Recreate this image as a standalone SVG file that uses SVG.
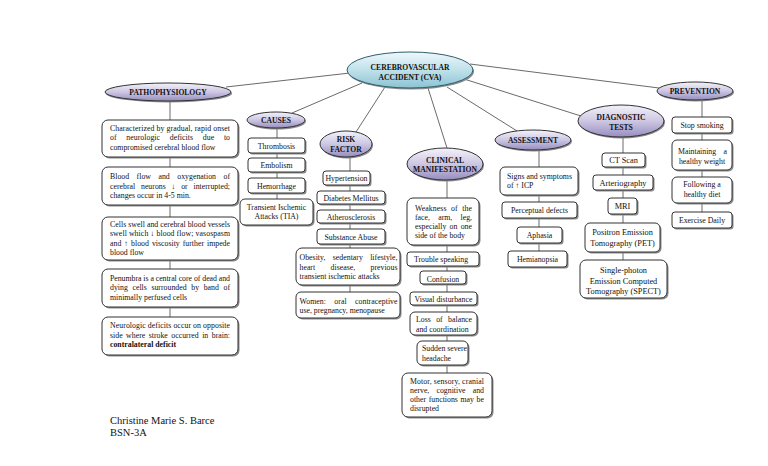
<svg xmlns="http://www.w3.org/2000/svg" width="768" height="466" viewBox="0 0 768 466">
<defs>
<linearGradient id="gp" x1="0" y1="0" x2="0" y2="1">
<stop offset="0" stop-color="#f4f2fa"/>
<stop offset="0.5" stop-color="#cdc7e3"/>
<stop offset="1" stop-color="#978dc0"/>
</linearGradient>
<linearGradient id="gc" x1="0" y1="0" x2="0" y2="1">
<stop offset="0" stop-color="#eef8fb"/>
<stop offset="0.5" stop-color="#bfe1ea"/>
<stop offset="1" stop-color="#8cc3d3"/>
</linearGradient>
</defs>
<style>
.bg{fill:#ffffff}
.con{stroke:#444;stroke-width:0.8;fill:none}
.ell{fill:url(#gp);stroke:#333;stroke-width:1}
.cen{fill:url(#gc);stroke:#2f5e6c;stroke-width:1}
.sh{fill:#8a8a8a}
.box{fill:#fff;stroke:#333;stroke-width:1}
.h{font-family:"Liberation Serif",serif;font-weight:bold;font-size:7.6px;fill:#111;text-anchor:middle}
.t{font-family:"Liberation Serif",serif;font-size:7.8px;fill:#111}
.p{font-family:"Liberation Serif",serif;font-size:7.8px;fill:#111}
.d{font-family:"Liberation Serif",serif;font-size:8.3px;fill:#111}
.m{text-anchor:middle}
.b{font-weight:bold}
.f{font-family:"Liberation Serif",serif;font-size:10.5px;fill:#111}
</style>
<rect class="bg" x="0" y="0" width="768" height="466"/>

<g id="connectors">
<line class="con" x1="226" y1="87" x2="350" y2="73"/>
<line class="con" x1="292" y1="113" x2="362" y2="83"/>
<line class="con" x1="356" y1="132" x2="385" y2="87"/>
<line class="con" x1="447" y1="148" x2="428" y2="88"/>
<line class="con" x1="517" y1="131" x2="447" y2="87"/>
<line class="con" x1="581" y1="116" x2="464" y2="79"/>
<line class="con" x1="659" y1="88" x2="470" y2="64"/>
<line class="con" x1="170" y1="100" x2="170" y2="317"/>
<line class="con" x1="277" y1="127" x2="277" y2="199"/>
<line class="con" x1="350" y1="157" x2="350" y2="292"/>
<line class="con" x1="447" y1="180" x2="447" y2="373"/>
<line class="con" x1="539" y1="150" x2="539" y2="251"/>
<line class="con" x1="623" y1="137" x2="623" y2="260"/>
<line class="con" x1="702" y1="100" x2="702" y2="212"/>
</g>

<g id="cva">
<ellipse cx="411" cy="71.5" rx="63" ry="18" fill="#8a8a8a"/>
<ellipse class="cen" cx="410" cy="70" rx="63" ry="18"/>
<text class="h" x="410" y="69.5">CEREBROVASCULAR</text>
<text class="h" x="410" y="79.5">ACCIDENT (CVA)</text>
</g>

<g id="pathophysiology">
<ellipse cx="169" cy="93.5" rx="63" ry="9" fill="#8a8a8a"/>
<ellipse class="ell" cx="168" cy="92" rx="63" ry="9"/>
<text class="h" x="168" y="94.5">PATHOPHYSIOLOGY</text>
</g>
<g id="patho1">
<rect class="sh" x="103.5" y="121.5" width="136" height="37" rx="6"/>
<rect class="box" x="102" y="120" width="136" height="37" rx="6"/>
<text class="p" x="110" y="130.5" textLength="120" lengthAdjust="spacing">Characterized by gradual, rapid onset</text>
<text class="p" x="110" y="140" style="word-spacing:7.8px" textLength="120" lengthAdjust="spacing">of neurologic deficits due to</text>
<text class="p" x="110" y="149.5">compromised cerebral blood flow</text>
</g>
<g id="patho2">
<rect class="sh" x="103.5" y="168.5" width="136" height="38" rx="6"/>
<rect class="box" x="102" y="167" width="136" height="38" rx="6"/>
<text class="p" x="110" y="179" style="word-spacing:5.5px" textLength="120" lengthAdjust="spacing">Blood flow and oxygenation of</text>
<text class="p" x="110" y="188.5" style="word-spacing:3.8px" textLength="120" lengthAdjust="spacing">cerebral neurons ↓ or interrupted;</text>
<text class="p" x="110" y="198">changes occur in 4-5 min.</text>
</g>
<g id="patho3">
<rect class="sh" x="103.5" y="218.5" width="136" height="43" rx="6"/>
<rect class="box" x="102" y="217" width="136" height="43" rx="6"/>
<text class="p" x="110" y="226.5" textLength="120" lengthAdjust="spacing">Cells swell and cerebral blood vessels</text>
<text class="p" x="110" y="236" textLength="120" lengthAdjust="spacing">swell which ↓ blood flow; vasospasm</text>
<text class="p" x="110" y="245.5" style="word-spacing:1px" textLength="120" lengthAdjust="spacing">and ↑ blood viscosity further impede</text>
<text class="p" x="110" y="255">blood flow</text>
</g>
<g id="patho4">
<rect class="sh" x="103.5" y="270.5" width="136" height="38" rx="6"/>
<rect class="box" x="102" y="269" width="136" height="38" rx="6"/>
<text class="p" x="110" y="280.5" textLength="120" lengthAdjust="spacing">Penumbra is a central core of dead and</text>
<text class="p" x="110" y="290" style="word-spacing:2.6px" textLength="120" lengthAdjust="spacing">dying cells surrounded by band of</text>
<text class="p" x="110" y="299.5">minimally perfused cells</text>
</g>
<g id="patho5">
<rect class="sh" x="103.5" y="318.5" width="136" height="38" rx="6"/>
<rect class="box" x="102" y="317" width="136" height="38" rx="6"/>
<text class="p" x="110" y="328" textLength="120" lengthAdjust="spacing">Neurologic deficits occur on opposite</text>
<text class="p" x="110" y="337.5" style="word-spacing:1.5px" textLength="120" lengthAdjust="spacing">side where stroke occurred in brain:</text>
<text class="p b" x="110" y="347">contralateral deficit</text>
</g>

<g id="causes">
<ellipse cx="277" cy="121.5" rx="29" ry="8" fill="#8a8a8a"/>
<ellipse class="ell" cx="276" cy="120" rx="29" ry="8"/>
<text class="h" x="276" y="122.8">CAUSES</text>
</g>
<g id="thrombosis">
<rect class="sh" x="249.5" y="139.5" width="57" height="15" rx="3"/>
<rect class="box" x="248" y="138" width="57" height="15" rx="3"/>
<text class="t m" x="276.5" y="148.5">Thrombosis</text>
</g>
<g id="embolism">
<rect class="sh" x="249.5" y="159.5" width="57" height="14" rx="3"/>
<rect class="box" x="248" y="158" width="57" height="14" rx="3"/>
<text class="t m" x="276.5" y="168">Embolism</text>
</g>
<g id="hemorrhage">
<rect class="sh" x="249.5" y="179.5" width="57" height="15" rx="3"/>
<rect class="box" x="248" y="178" width="57" height="15" rx="3"/>
<text class="t m" x="276.5" y="188.5">Hemorrhage</text>
</g>
<g id="tia">
<rect class="sh" x="241.5" y="200.5" width="73" height="26" rx="5"/>
<rect class="box" x="240" y="199" width="73" height="26" rx="5"/>
<text class="t m" x="276.5" y="209.5">Transient Ischemic</text>
<text class="t m" x="276.5" y="219">Attacks (TIA)</text>
</g>

<g id="risk">
<ellipse cx="347" cy="145.5" rx="26" ry="13" fill="#8a8a8a"/>
<ellipse class="ell" cx="346" cy="144" rx="26" ry="13"/>
<text class="h" x="346" y="141.5">RISK</text>
<text class="h" x="346" y="151.5">FACTOR</text>
</g>
<g id="hypertension">
<rect class="sh" x="324.5" y="172.5" width="47" height="14" rx="3"/>
<rect class="box" x="323" y="171" width="47" height="14" rx="3"/>
<text class="t m" x="346.5" y="181">Hypertension</text>
</g>
<g id="diabetes">
<rect class="sh" x="318.5" y="192.5" width="68" height="13" rx="3"/>
<rect class="box" x="317" y="191" width="68" height="13" rx="3"/>
<text class="t m" x="351" y="200.5">Diabetes Mellitus</text>
</g>
<g id="athero">
<rect class="sh" x="318.5" y="211.5" width="68" height="13" rx="3"/>
<rect class="box" x="317" y="210" width="68" height="13" rx="3"/>
<text class="t m" x="351" y="219.5">Atherosclerosis</text>
</g>
<g id="substance">
<rect class="sh" x="318.5" y="230.5" width="68" height="15" rx="3"/>
<rect class="box" x="317" y="229" width="68" height="15" rx="3"/>
<text class="t m" x="351" y="239.5">Substance Abuse</text>
</g>
<g id="obesity">
<rect class="sh" x="297.5" y="249.5" width="104" height="37" rx="6"/>
<rect class="box" x="296" y="248" width="104" height="37" rx="6"/>
<text class="t" x="299.5" y="260" style="word-spacing:5.3px" textLength="98" lengthAdjust="spacing">Obesity, sedentary lifestyle,</text>
<text class="t" x="299.5" y="269.5" style="word-spacing:13.4px" textLength="98" lengthAdjust="spacing">heart disease, previous</text>
<text class="t" x="299.5" y="279">transient ischemic attacks</text>
</g>
<g id="women">
<rect class="sh" x="297.5" y="293.5" width="104" height="26" rx="5"/>
<rect class="box" x="296" y="292" width="104" height="26" rx="5"/>
<text class="t" x="299.5" y="303.5" style="word-spacing:6.4px" textLength="98" lengthAdjust="spacing">Women: oral contraceptive</text>
<text class="t" x="299.5" y="313">use, pregnancy, menopause</text>
</g>

<g id="clinical">
<ellipse cx="446" cy="165.5" rx="38" ry="16" fill="#8a8a8a"/>
<ellipse class="ell" cx="445" cy="164" rx="38" ry="16"/>
<text class="h" x="445" y="162.5">CLINICAL</text>
<text class="h" x="445" y="172">MANIFESTATION</text>
</g>
<g id="weakness">
<rect class="sh" x="408.5" y="199.5" width="72" height="47" rx="6"/>
<rect class="box" x="407" y="198" width="72" height="47" rx="6"/>
<text class="t" x="415" y="210.5" style="word-spacing:2.6px" textLength="57" lengthAdjust="spacing">Weakness of the</text>
<text class="t" x="415" y="219.5" style="word-spacing:6.2px" textLength="57" lengthAdjust="spacing">face, arm, leg,</text>
<text class="t" x="415" y="228.5" style="word-spacing:1.3px" textLength="57" lengthAdjust="spacing">especially on one</text>
<text class="t" x="415" y="237.5">side of the body</text>
</g>
<g id="trouble">
<rect class="sh" x="408.5" y="253.5" width="72" height="14" rx="3"/>
<rect class="box" x="407" y="252" width="72" height="14" rx="3"/>
<text class="t" x="414" y="261.5">Trouble speaking</text>
</g>
<g id="confusion">
<rect class="sh" x="421.5" y="272.5" width="46" height="13" rx="3"/>
<rect class="box" x="420" y="271" width="46" height="13" rx="3"/>
<text class="t m" x="443" y="282">Confusion</text>
</g>
<g id="visual">
<rect class="sh" x="411.5" y="293.5" width="67" height="13" rx="3"/>
<rect class="box" x="410" y="292" width="67" height="13" rx="3"/>
<text class="t m" x="443.5" y="301.5">Visual disturbance</text>
</g>
<g id="balance">
<rect class="sh" x="411.5" y="313.5" width="67" height="23" rx="5"/>
<rect class="box" x="410" y="312" width="67" height="23" rx="5"/>
<text class="t" x="416" y="322" style="word-spacing:3.4px" textLength="56" lengthAdjust="spacing">Loss of balance</text>
<text class="t" x="416" y="331.5">and coordination</text>
</g>
<g id="headache">
<rect class="sh" x="418.5" y="342.5" width="51" height="24" rx="5"/>
<rect class="box" x="417" y="341" width="51" height="24" rx="5"/>
<text class="t" x="422" y="351" textLength="45" lengthAdjust="spacing">Sudden severe</text>
<text class="t" x="422" y="361">headache</text>
</g>
<g id="motor">
<rect class="sh" x="403.5" y="374.5" width="90" height="44" rx="6"/>
<rect class="box" x="402" y="373" width="90" height="44" rx="6"/>
<text class="t" x="410" y="384" textLength="74" lengthAdjust="spacing">Motor, sensory, cranial</text>
<text class="t" x="410" y="393" style="word-spacing:5.2px" textLength="74" lengthAdjust="spacing">nerve, cognitive and</text>
<text class="t" x="410" y="402" style="word-spacing:0.7px" textLength="74" lengthAdjust="spacing">other functions may be</text>
<text class="t" x="410" y="411">disrupted</text>
</g>

<g id="assessment">
<ellipse cx="534" cy="141.5" rx="38" ry="10" fill="#8a8a8a"/>
<ellipse class="ell" cx="533" cy="140" rx="38" ry="10"/>
<text class="h" x="533" y="142.8">ASSESSMENT</text>
</g>
<g id="signs">
<rect class="sh" x="501.5" y="168.5" width="78" height="28" rx="5"/>
<rect class="box" x="500" y="167" width="78" height="28" rx="5"/>
<text class="t" x="507" y="178.5" textLength="65" lengthAdjust="spacing">Signs and symptoms</text>
<text class="t" x="507" y="188">of ↑ ICP</text>
</g>
<g id="perceptual">
<rect class="sh" x="503.5" y="203.5" width="75" height="16" rx="3"/>
<rect class="box" x="502" y="202" width="75" height="16" rx="3"/>
<text class="t m" x="539.5" y="212.5">Perceptual defects</text>
</g>
<g id="aphasia">
<rect class="sh" x="518.5" y="228.5" width="45" height="16" rx="3"/>
<rect class="box" x="517" y="227" width="45" height="16" rx="3"/>
<text class="t m" x="539.5" y="237.5">Aphasia</text>
</g>
<g id="hemianopsia">
<rect class="sh" x="509.5" y="252.5" width="59" height="16" rx="3"/>
<rect class="box" x="508" y="251" width="59" height="16" rx="3"/>
<text class="t m" x="537.5" y="261.5">Hemianopsia</text>
</g>

<g id="diagnostic">
<ellipse cx="622" cy="122.5" rx="43" ry="16" fill="#8a8a8a"/>
<ellipse class="ell" cx="621" cy="121" rx="43" ry="16"/>
<text class="h" x="621" y="119.5">DIAGNOSTIC</text>
<text class="h" x="621" y="130">TESTS</text>
</g>
<g id="ct">
<rect class="sh" x="603.5" y="154.5" width="43" height="14" rx="3"/>
<rect class="box" x="602" y="153" width="43" height="14" rx="3"/>
<text class="d m" x="623.5" y="163.3">CT Scan</text>
</g>
<g id="arteriography">
<rect class="sh" x="594.5" y="176.5" width="60" height="15" rx="3"/>
<rect class="box" x="593" y="175" width="60" height="15" rx="3"/>
<text class="d m" x="623" y="185.5">Arteriography</text>
</g>
<g id="mri">
<rect class="sh" x="609.5" y="199.5" width="29" height="16" rx="3"/>
<rect class="box" x="608" y="198" width="29" height="16" rx="3"/>
<text class="d m" x="622.5" y="208.8">MRI</text>
</g>
<g id="pet">
<rect class="sh" x="586.5" y="224.5" width="75" height="29" rx="5"/>
<rect class="box" x="585" y="223" width="75" height="29" rx="5"/>
<text class="d m" x="622.5" y="235">Positron Emission</text>
<text class="d m" x="622.5" y="246">Tomography (PET)</text>
</g>
<g id="spect">
<rect class="sh" x="581.5" y="261.5" width="87" height="38" rx="6"/>
<rect class="box" x="580" y="260" width="87" height="38" rx="6"/>
<text class="d m" x="623.5" y="273">Single-photon</text>
<text class="d m" x="623.5" y="283.5">Emission Computed</text>
<text class="d m" x="623.5" y="294">Tomography (SPECT)</text>
</g>

<g id="prevention">
<ellipse cx="696" cy="92.5" rx="38" ry="9" fill="#8a8a8a"/>
<ellipse class="ell" cx="695" cy="91" rx="38" ry="9"/>
<text class="h" x="695" y="93.8">PREVENTION</text>
</g>
<g id="smoking">
<rect class="sh" x="673.5" y="118.5" width="60" height="16" rx="3"/>
<rect class="box" x="672" y="117" width="60" height="16" rx="3"/>
<text class="t m" x="702" y="127.8">Stop smoking</text>
</g>
<g id="weight">
<rect class="sh" x="673.5" y="141.5" width="60" height="30" rx="5"/>
<rect class="box" x="672" y="140" width="60" height="30" rx="5"/>
<text class="t" x="678" y="153.5" style="word-spacing:5.4px" textLength="49" lengthAdjust="spacing">Maintaining a</text>
<text class="t m" x="702" y="164">healthy weight</text>
</g>
<g id="diet">
<rect class="sh" x="673.5" y="178.5" width="60" height="26" rx="5"/>
<rect class="box" x="672" y="177" width="60" height="26" rx="5"/>
<text class="t m" x="702" y="186.5">Following a</text>
<text class="t m" x="702" y="196.5">healthy diet</text>
</g>
<g id="exercise">
<rect class="sh" x="673.5" y="213.5" width="60" height="16" rx="3"/>
<rect class="box" x="672" y="212" width="60" height="16" rx="3"/>
<text class="t m" x="702" y="223">Exercise Daily</text>
</g>

<text class="f" x="110" y="424">Christine Marie S. Barce</text>
<text class="f" x="110" y="435.5">BSN-3A</text>
</svg>
